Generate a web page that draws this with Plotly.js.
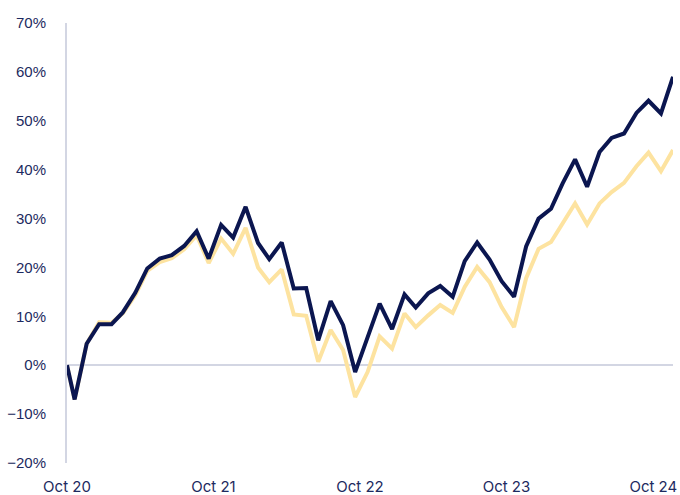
<!DOCTYPE html>
<html>
<head>
<meta charset="utf-8">
<script src="https://cdn.plot.ly/plotly-3.0.1.min.js"></script>
<style>
html,body{margin:0;padding:0;background:#fff;}
#chart{width:680px;height:495px;}
</style>
</head>
<body>
<div id="chart"></div>
<script>
const dates = ['2020-10-12','2020-10-31','2020-11-30','2020-12-31','2021-01-31','2021-02-28','2021-03-31','2021-04-30','2021-05-31','2021-06-30','2021-07-31','2021-08-31','2021-09-30','2021-10-31','2021-11-30','2021-12-31','2022-01-31','2022-02-28','2022-03-31','2022-04-30','2022-05-31','2022-06-30','2022-07-31','2022-08-31','2022-09-30','2022-10-31','2022-11-30','2022-12-31','2023-01-31','2023-02-28','2023-03-31','2023-04-30','2023-05-31','2023-06-30','2023-07-31','2023-08-31','2023-09-30','2023-10-31','2023-11-30','2023-12-31','2024-01-31','2024-02-29','2024-03-31','2024-04-30','2024-05-31','2024-06-30','2024-07-31','2024-08-31','2024-09-30','2024-10-31','2024-11-30'];

const navySeries = [0, -7.0, 4.4, 8.4, 8.4, 10.8, 14.8, 19.8, 21.8, 22.5, 24.4, 27.4, 21.8, 28.7, 26.1, 32.4, 25.0, 21.7, 25.1, 15.7, 15.8, 5.1, 13.1, 8.2, -1.4, 5.8, 12.6, 7.4, 14.5, 11.8, 14.7, 16.2, 14.0, 21.3, 25.1, 21.6, 17.2, 14.0, 24.3, 30.0, 32.0, 37.2, 42.1, 36.5, 43.6, 46.5, 47.4, 51.6, 54.1, 51.5, 59.0];

const yellowSeries = [0, -7.0, 4.4, 8.8, 8.7, 10.6, 14.3, 19.3, 21.1, 21.9, 23.7, 26.6, 20.9, 25.9, 22.8, 28.1, 20.0, 17.0, 19.6, 10.4, 10.1, 0.7, 7.2, 3.1, -6.5, -1.4, 5.9, 3.4, 10.6, 7.8, 10.2, 12.3, 10.7, 16.0, 20.1, 17.0, 11.9, 7.8, 17.8, 23.8, 25.2, 29.1, 33.1, 28.8, 33.1, 35.4, 37.3, 40.7, 43.5, 39.7, 44.0];

const xTickVals = ['2020-10-12','2021-10-12','2022-10-12','2023-10-12','2024-10-12'];
const xTickText = ['Oct 20','Oct 21','Oct 22','Oct 23','Oct 24'];

const traces = [
  {x: dates, y: yellowSeries, type: 'scatter', mode: 'lines', name: 'Benchmark',
   line: {color: '#fde3a0', width: 4}, hoverinfo: 'skip'},
  {x: dates, y: navySeries, type: 'scatter', mode: 'lines', name: 'Fund',
   line: {color: '#0b1650', width: 4}, hoverinfo: 'skip'}
];

const layout = {
  width: 680, height: 495,
  margin: {l: 67, r: 7, t: 23, b: 32},
  paper_bgcolor: '#ffffff', plot_bgcolor: '#ffffff',
  showlegend: false,
  xaxis: {
    type: 'date',
    range: ['2020-10-12', '2024-11-30'],
    tickvals: xTickVals, ticktext: xTickText,
    showgrid: false, zeroline: false, showline: false,
    ticks: 'outside', ticklen: 10, tickcolor: 'rgba(0,0,0,0)',
    tickfont: {family: 'Inter, sans-serif', size: 15, color: '#1d2a60'}
  },
  yaxis: {
    range: [-20, 70], dtick: 10, tick0: 0, ticksuffix: '%',
    showgrid: false,
    zeroline: true, zerolinecolor: '#d3d6e3', zerolinewidth: 2,
    showline: true, linecolor: '#d3d6e3', linewidth: 2,
    ticks: 'outside', ticklen: 16, tickcolor: 'rgba(0,0,0,0)',
    tickfont: {family: '"Liberation Sans", Arial, sans-serif', size: 15, color: '#1d2a60'}
  }
};

Plotly.newPlot('chart', traces, layout, {displayModeBar: false, staticPlot: true});
</script>
</body>
</html>
